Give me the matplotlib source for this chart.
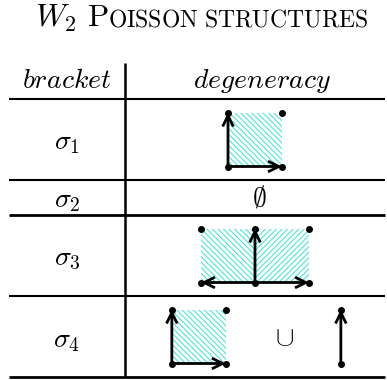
import matplotlib
matplotlib.use("Agg")
import matplotlib.pyplot as plt
from matplotlib.patches import Rectangle, FancyArrowPatch, ArrowStyle
from matplotlib.offsetbox import TextArea, HPacker, AnnotationBbox

plt.rcParams['mathtext.fontset'] = 'cm'
plt.rcParams['hatch.linewidth'] = 0.8

# ---- data ----
title_main = r"$W_2$"
title_cap = r"$\mathrm{P}$"
title_smallcaps = r"$\mathrm{OISSON\ STRUCTURES}$"
headers = [r"$bracket$", r"$degeneracy$"]
brackets = [r"$\sigma_1$", r"$\sigma_2$", r"$\sigma_3$", r"$\sigma_4$"]
# degeneracy pieces per bracket: each piece = (kind, horizontal offset in square units)
# kinds: 'quadrant' (2D cone spanned by two rays), 'halfplane' (upper half plane),
#        'ray' (single vertical ray), 'cup' (union sign), 'empty' (empty set)
degeneracy = [
    [("quadrant", -0.5)],
    [("empty", 0.0)],
    [("halfplane", 0.0)],
    [("quadrant", -1.54), ("cup", 0.54), ("ray", 1.59)],
]

# ---- layout (pixels) ----
W, H = 387, 380
row_edges = [63, 99, 180, 215, 296, 377]
x_left, x_right, x_sep = 9, 385, 125
col1_c, col2_c = 67, 255
S = 54  # square side in px
HATCH_C = "#4fe3da"
FS = 20

fig = plt.figure(figsize=(W / 100, H / 100), dpi=100)
ax = fig.add_axes([0, 0, 1, 1])
ax.set_xlim(0, W)
ax.set_ylim(H, 0)
ax.axis("off")

# title
pk = HPacker(children=[
    TextArea(title_main, textprops=dict(fontsize=22.5)),
    TextArea(" ", textprops=dict(fontsize=22.5)),
    TextArea(title_cap, textprops=dict(fontsize=22.5)),
    TextArea(title_smallcaps, textprops=dict(fontsize=17)),
], align="baseline", pad=0, sep=0)
ab = AnnotationBbox(pk, (202, 18), xycoords="data", frameon=False, box_alignment=(0.5, 0.5))
ax.add_artist(ab)

# table rules
for i, y in enumerate(row_edges[1:]):
    lw = 2.0 if i in (2, 4) else 1.5
    ax.plot([x_left, x_right], [y, y], color="black", lw=lw, solid_capstyle="butt")
ax.plot([x_sep, x_sep], [row_edges[0], row_edges[-1]], color="black", lw=1.8, solid_capstyle="butt")

# headers
ax.text(col1_c, 88, headers[0], fontsize=FS, ha="center", va="baseline")
ax.text(262, 88, headers[1], fontsize=FS, ha="center", va="baseline")

astyle = ArrowStyle("->", head_length=0.65, head_width=0.32)


def arrow(p0, p1):
    ax.add_patch(FancyArrowPatch(p0, p1, arrowstyle=astyle, mutation_scale=12,
                                 lw=2.0, color="black", shrinkA=0, shrinkB=0,
                                 joinstyle="miter", capstyle="butt", zorder=3))


def dots(pts):
    ax.plot([p[0] for p in pts], [p[1] for p in pts], "o", color="black", ms=4.0, zorder=4)


def hatch_rect(x0, y0, w, h, pattern):
    ax.add_patch(Rectangle((x0, y0), w, h, facecolor="none", edgecolor=HATCH_C,
                           lw=0, hatch=pattern, zorder=1))


for i, (lab, pieces) in enumerate(zip(brackets, degeneracy)):
    top, bot = row_edges[i + 1], row_edges[i + 2]
    yc = (top + bot) / 2
    ax.text(col1_c, yc + 3, lab, fontsize=FS, ha="center", va="center")
    oy = yc + S / 2  # origin (bottom) y
    for kind, off in pieces:
        ox = col2_c + off * S
        if kind == "quadrant":
            hatch_rect(ox, oy - S, S, S, "\\" * 6)
            arrow((ox, oy), (ox, oy - S))
            arrow((ox, oy), (ox + S, oy))
            dots([(ox, oy), (ox, oy - S), (ox + S, oy - S), (ox + S, oy)])
        elif kind == "halfplane":
            hatch_rect(ox - S, oy - S, S, S, "\\" * 6)
            hatch_rect(ox, oy - S, S, S, "/" * 6)
            arrow((ox, oy), (ox, oy - S))
            arrow((ox, oy), (ox + S, oy))
            arrow((ox, oy), (ox - S, oy))
            dots([(ox - S, oy - S), (ox, oy - S), (ox + S, oy - S),
                  (ox - S, oy), (ox, oy), (ox + S, oy)])
        elif kind == "ray":
            arrow((ox, oy), (ox, oy - S))
            dots([(ox, oy), (ox, oy - S)])
        elif kind == "cup":
            ax.text(ox, yc, r"$\cup$", fontsize=FS, ha="center", va="center")
        elif kind == "empty":
            ax.text(ox + 4, yc, r"$\emptyset$", fontsize=FS, ha="center", va="center")

fig.savefig("out.png", dpi=100)
